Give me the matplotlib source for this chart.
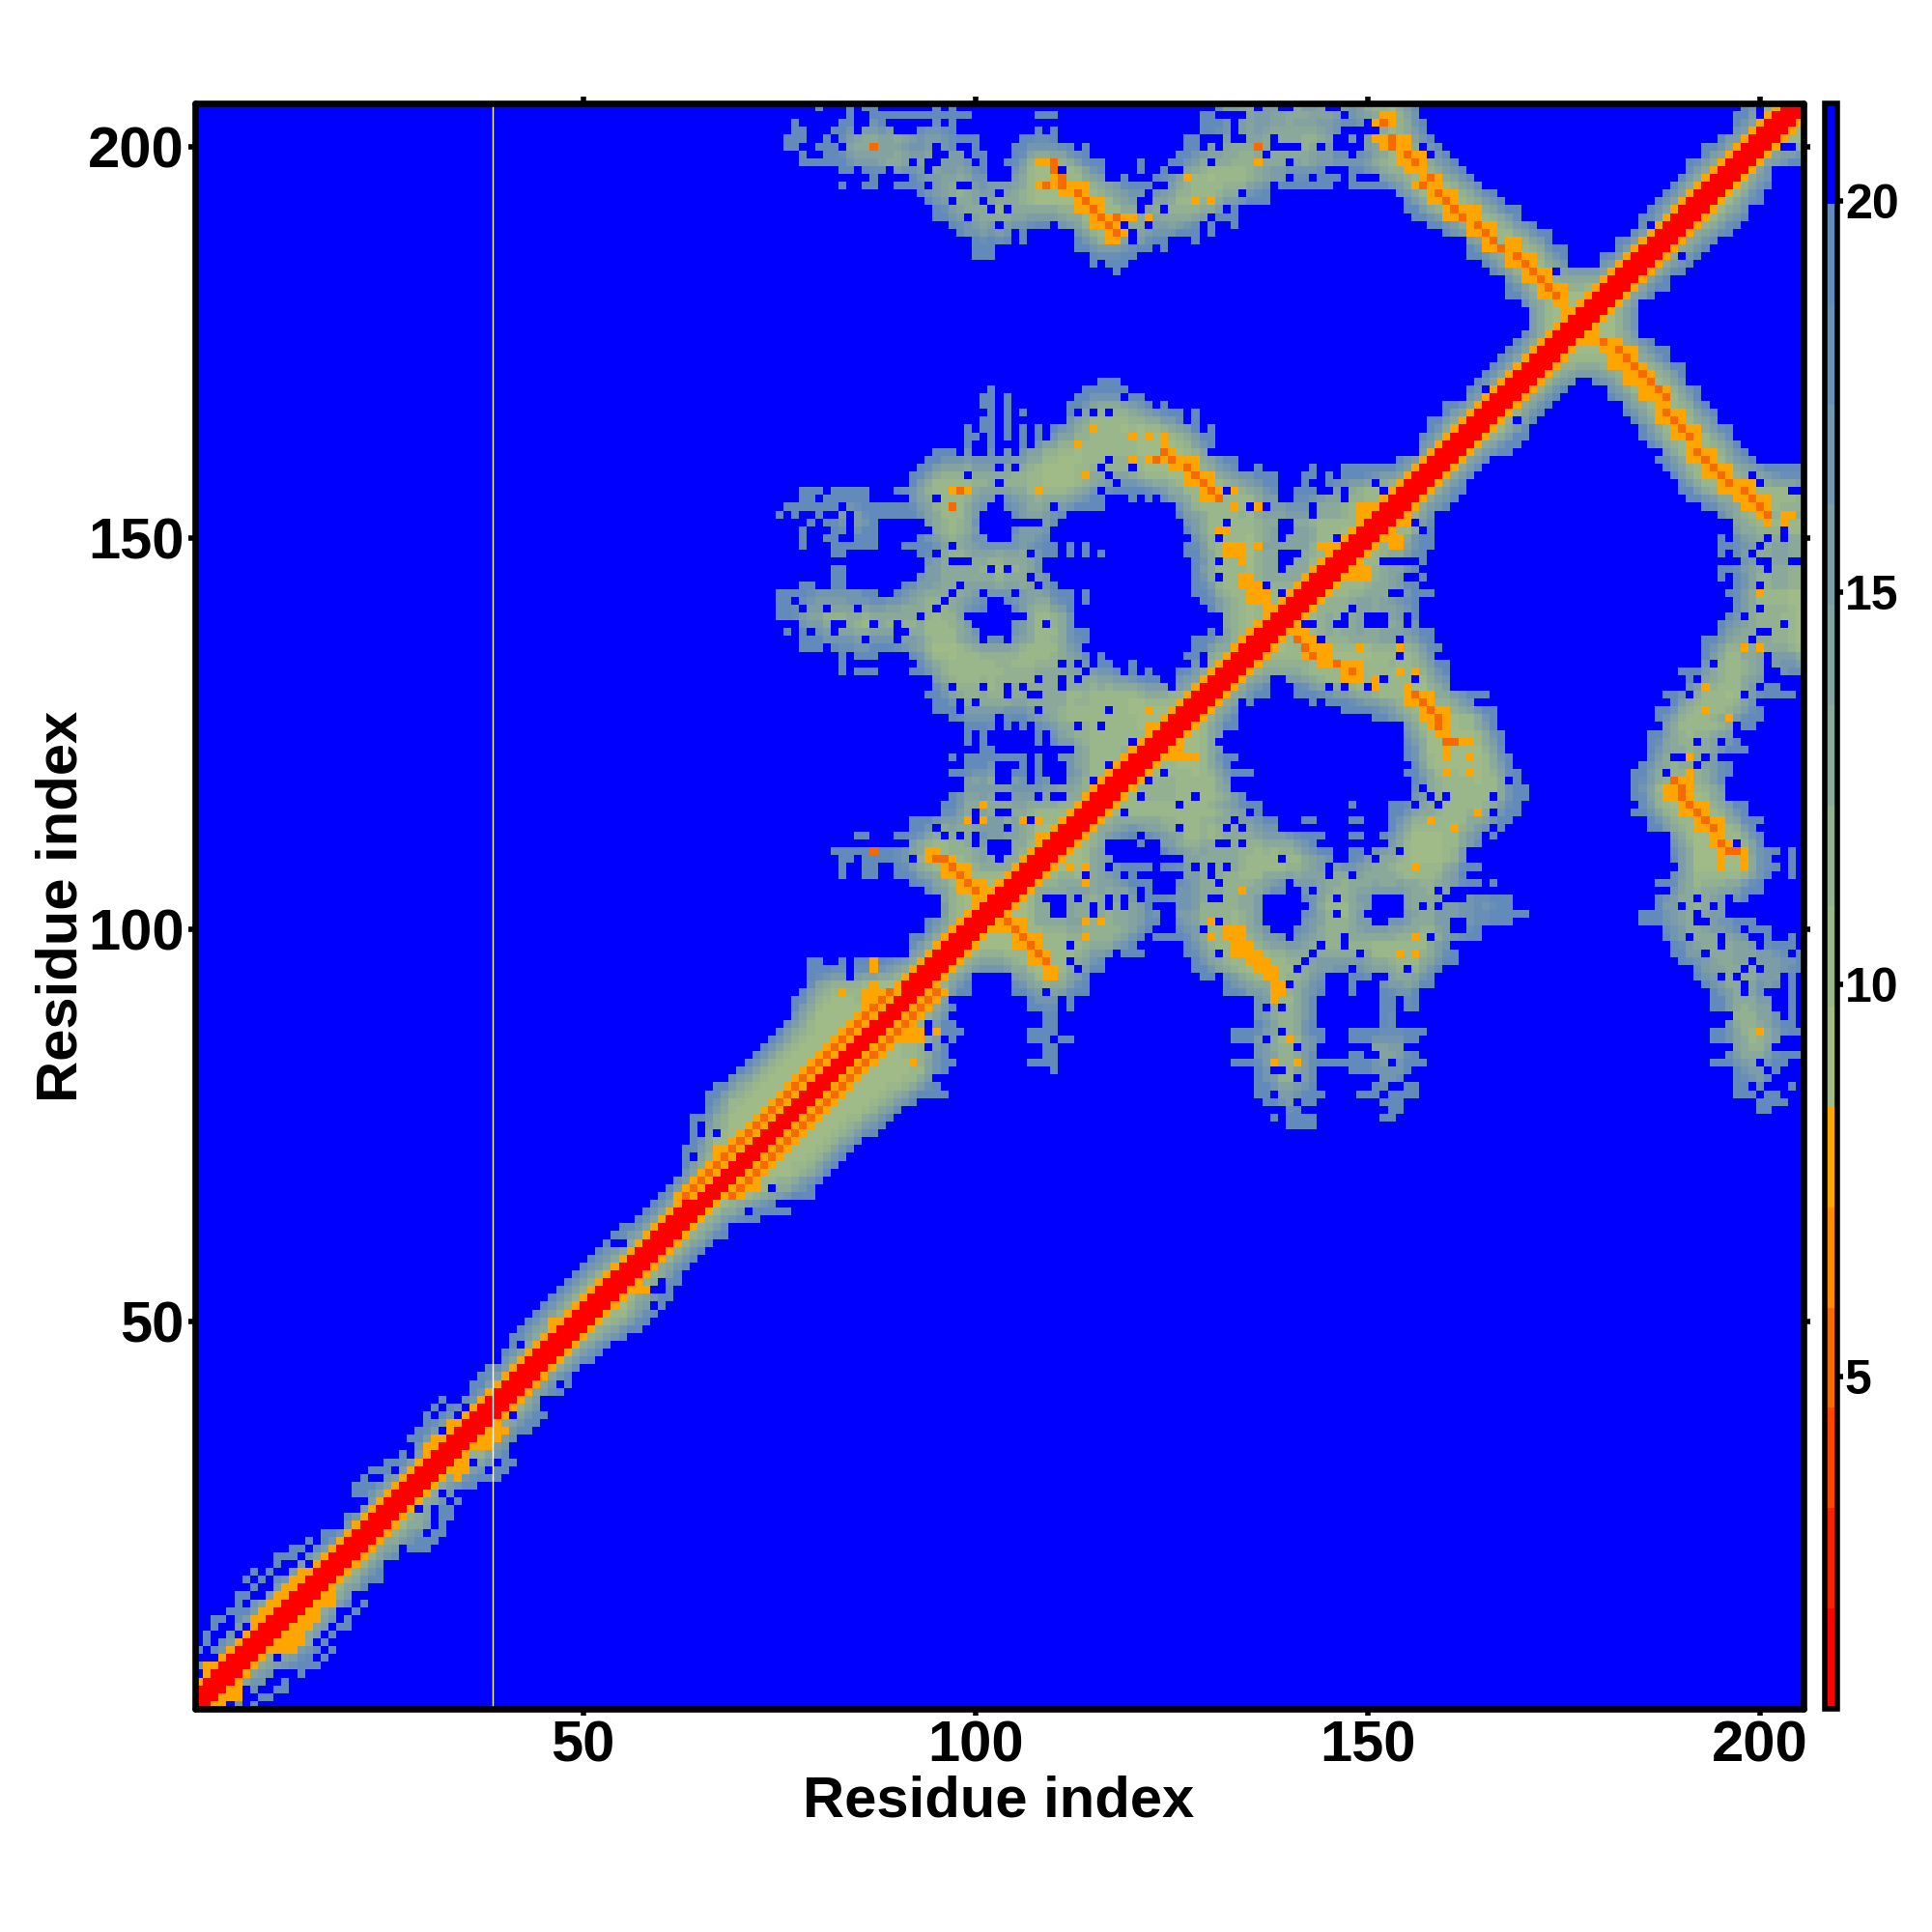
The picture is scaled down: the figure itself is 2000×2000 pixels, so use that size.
import numpy as np
import matplotlib
matplotlib.use("Agg")
import matplotlib.pyplot as plt
from matplotlib.colors import ListedColormap, BoundaryNorm
from matplotlib.colorbar import ColorbarBase

plt.rcParams['font.family'] = ['Liberation Sans', 'DejaVu Sans']
plt.rcParams['font.weight'] = 'bold'

N_RES = 205
GAP_COLUMN = 38.5
TICKS = [50, 100, 150, 200]
CBAR_TICKS = [5, 10, 15, 20]
BOUNDS = [0.76, 2.04, 3.32, 4.60, 5.88, 7.16, 8.44, 9.72, 11.0, 12.28, 13.56, 14.84, 16.12, 17.4, 18.68, 19.96, 21.24]
COLORS = ['#FF0000', '#F92000', '#FF4500', '#F66A00', '#FF8C00', '#FFA500',
          '#A1BB88', '#9AB78C', '#93B091', '#8BA99A', '#83A2A0', '#7C9CA8',
          '#7295B0', '#6A8FB6', '#628ABB', '#0000FF']

# non-blue cells per row: row -> (first, last) residue runs
ROW_RUNS = {
    205: [(80,80),(84,84),(86,87),(95,95),(97,97),(131,135),(137,138),(141,144),(147,156),(198,199),(201,205)],
    204: [(84,84),(87,99),(108,110),(129,130),(135,146),(147,156),(197,205)],
    203: [(77,77),(83,84),(87,88),(95,95),(97,97),(129,132),(134,150),(152,157),(197,205)],
    202: [(77,78),(82,84),(86,89),(93,97),(108,108),(110,110),(129,132),(134,137),(138,146),(152,157),(197,205)],
    201: [(76,78),(81,81),(83,100),(106,110),(127,128),(132,132),(135,137),(139,146),(148,148),(150,158),(195,205)],
    200: [(76,77),(80,82),(84,94),(96,97),(100,100),(105,112),(114,114),(127,128),(130,130),(132,137),(142,145),(150,159),(193,205)],
    199: [(78,78),(81,94),(96,98),(100,101),(105,114),(126,147),(149,160),(193,205)],
    198: [(78,91),(93,93),(96,99),(101,101),(104,116),(121,121),(125,129),(131,139),(141,161),(191,205)],
    197: [(83,84),(86,88),(90,93),(95,101),(105,110),(112,116),(121,121),(124,124),(127,144),(148,162),(191,201)],
    196: [(87,87),(92,101),(105,116),(119,119),(123,142),(144,146),(148,148),(152,163),(190,201)],
    195: [(83,83),(86,87),(90,93),(95,97),(100,122),(124,137),(139,145),(148,164),(189,201)],
    194: [(93,102),(104,121),(123,133),(135,137),(154,166),(188,200)],
    193: [(94,100),(102,120),(123,137),(155,167),(187,200)],
    192: [(95,101),(103,103),(105,131),(133,133),(155,169),(186,198)],
    191: [(95,98),(100,133),(156,169),(185,198)],
    190: [(97,102),(104,109),(111,118),(120,121),(123,128),(130,130),(133,133),(158,171),(185,197)],
    189: [(98,104),(106,106),(113,119),(121,128),(130,130),(160,161),(162,173),(184,196)],
    188: [(100,104),(106,106),(113,119),(121,124),(128,128),(163,173),(182,194)],
    187: [(100,102),(113,122),(124,124),(163,175),(182,193)],
    186: [(100,102),(115,120),(163,175),(180,192)],
    185: [(115,115),(117,119),(165,175),(180,191)],
    184: [(118,118),(166,190)],
    183: [(168,188)], 182: [(168,188)], 181: [(168,186)], 180: [(170,184)],
    179: [(171,184)], 178: [(171,184)], 177: [(171,184)], 176: [(170,184)],
    175: [(169,186)], 174: [(168,188)], 173: [(167,188)], 172: [(166,190)], 171: [(165,190)],
    170: [(116,118),(164,176),(179,190)],
    169: [(102,102),(114,119),(163,175),(181,192)],
    168: [(101,102),(104,104),(113,121),(163,174),(181,192)],
    167: [(101,102),(104,104),(112,122),(124,124),(160,173),(183,193)],
    166: [(102,102),(104,104),(106,106),(112,112),(114,126),(128,128),(160,172),(183,194)],
    165: [(101,102),(104,104),(112,126),(128,128),(158,171),(184,194)],
    164: [(99,99),(101,102),(104,104),(106,106),(108,108),(110,128),(130,130),(158,170),(185,196)],
    163: [(99,100),(102,102),(104,104),(106,106),(108,108),(110,130),(157,170),(185,196)],
    162: [(99,99),(102,102),(106,106),(108,130),(157,169),(186,197)],
    161: [(95,97),(99,99),(102,102),(104,104),(106,129),(157,168),(188,198)],
    160: [(94,133),(154,165),(187,199)],
    159: [(93,133),(136,136),(143,143),(147,164),(188,205)],
    158: [(92,138),(142,143),(145,145),(147,163),(189,205)],
    157: [(92,138),(142,142),(145,162),(190,205)],
    156: [(78,80),(82,86),(90,138),(141,143),(145,162),(190,204)],
    155: [(78,79),(81,86),(92,102),(104,116),(120,120),(122,122),(124,161),(191,205)],
    154: [(76,79),(80,82),(84,101),(104,116),(126,160),(193,205)],
    153: [(75,75),(77,77),(80,80),(83,83),(85,100),(105,111),(126,158),(195,205)],
    152: [(79,79),(81,83),(85,87),(94,100),(109,110),(127,158),(196,205)],
    151: [(78,78),(82,83),(85,87),(95,100),(105,109),(127,158),(196,205)],
    150: [(78,78),(81,82),(85,87),(93,101),(105,109),(128,158),(195,205)],
    149: [(78,78),(82,87),(91,96),(97,110),(112,112),(114,114),(127,158),(195,205)],
    148: [(82,83),(93,106),(108,110),(112,112),(114,114),(116,116),(127,157),(195,205)],
    147: [(94,97),(100,108),(128,157),(198,204)],
    146: [(82,83),(94,103),(105,108),(128,156),(195,205)],
    145: [(82,83),(93,106),(108,109),(128,157),(195,205)],
    144: [(78,79),(82,83),(91,97),(98,107),(109,110),(128,156),(196,205)],
    143: [(75,87),(90,96),(97,100),(102,104),(106,112),(114,114),(128,158),(196,205)],
    142: [(75,76),(78,95),(96,101),(104,112),(114,114),(129,156),(196,205)],
    141: [(75,77),(78,80),(81,84),(86,94),(96,101),(105,112),(130,156),(196,205)],
    140: [(75,92),(93,98),(107,112),(132,156),(196,205)],
    139: [(78,81),(84,86),(88,89),(91,99),(105,108),(110,112),(132,156),(195,205)],
    138: [(76,76),(78,78),(80,81),(83,89),(92,100),(105,114),(130,130),(132,158),(195,205)],
    137: [(78,85),(87,89),(91,100),(102,103),(105,114),(128,158),(193,205)],
    136: [(78,80),(82,91),(92,113),(128,159),(193,205)],
    135: [(83,83),(85,87),(92,114),(116,116),(127,128),(130,158),(193,200),(201,205)],
    134: [(83,83),(93,114),(116,117),(120,120),(128,128),(130,160),(193,205)],
    133: [(83,83),(85,87),(92,118),(120,120),(122,122),(126,160),(190,200),(203,205)],
    132: [(95,123),(126,160),(191,200)],
    131: [(95,124),(126,137),(141,160),(191,199),(200,203)],
    130: [(94,137),(141,165),(188,204)],
    129: [(95,135),(143,163),(189,200)],
    128: [(95,133),(147,166),(187,200)],
    127: [(97,102),(104,133),(151,166),(187,200)],
    126: [(99,102),(104,104),(106,106),(108,133),(155,166),(188,199)],
    125: [(99,99),(101,101),(108,108),(110,131),(155,167),(186,197)],
    124: [(99,99),(101,101),(108,108),(110,130),(155,167),(186,197)],
    123: [(101,102),(113,131),(155,167),(186,198)],
    122: [(97,97),(99,106),(108,108),(111,118),(120,133),(155,168),(186,196)],
    121: [(99,103),(105,106),(108,108),(112,132),(156,168),(185,196)],
    120: [(97,102),(105,106),(108,108),(112,135),(155,169),(184,196)],
    119: [(99,102),(105,106),(108,109),(112,132),(156,169),(184,195)],
    118: [(99,132),(156,170),(184,195)],
    117: [(97,102),(105,107),(109,109),(112,134),(156,170),(184,195)],
    116: [(96,136),(148,148),(153,169),(185,198)],
    115: [(96,136),(153,169),(184,198)],
    114: [(92,138),(142,143),(148,149),(153,168),(186,200)],
    113: [(92,138),(153,167),(186,199)],
    112: [(85,86),(90,144),(148,149),(152,164),(166,166),(189,200)],
    111: [(92,116),(121,121),(124,143),(153,164),(189,200)],
    110: [(82,116),(124,145),(148,149),(151,162),(189,202),(204,204)],
    109: [(83,84),(86,117),(127,145),(148,150),(152,162),(189,201),(204,204)],
    108: [(83,83),(86,87),(90,116),(118,122),(124,127),(129,129),(131,131),(133,164),(190,202),(204,204)],
    107: [(83,83),(86,87),(90,118),(120,120),(127,162),(189,201),(204,204)],
    106: [(92,122),(126,139),(141,164),(166,166),(187,200)],
    105: [(94,122),(126,140),(142,160),(189,200)],
    104: [(96,108),(112,112),(114,150),(155,159),(163,168),(187,195),(197,198)],
    103: [(96,122),(126,150),(155,168),(187,195)],
    102: [(96,123),(126,136),(142,149),(155,170),(185,195)],
    101: [(94,123),(126,136),(142,150),(153,160),(162,168),(185,191),(193,199)],
    100: [(94,122),(126,129),(130,164),(188,201)],
    99: [(92,121),(123,164),(188,201),(204,204)],
    98: [(92,120),(127,160),(189,204)],
    97: [(92,117),(119,121),(127,161),(189,205)],
    96: [(79,80),(83,83),(85,116),(128,161),(190,205)],
    95: [(79,116),(128,159),(192,205)],
    94: [(79,99),(105,114),(129,130),(132,144),(148,150),(153,158),(192,202),(204,204)],
    93: [(79,99),(105,114),(132,144),(148,148),(152,158),(193,202),(204,204)],
    92: [(78,99),(105,114),(132,144),(148,148),(152,156),(194,200),(204,204)],
    91: [(77,96),(107,110),(112,112),(136,143),(152,153),(155,156),(194,201),(204,204)],
    90: [(77,97),(107,110),(112,112),(136,143),(152,153),(155,156),(194,195),(196,201),(204,204)],
    89: [(77,96),(109,110),(136,143),(152,153),(197,202),(204,204)],
    88: [(76,97),(109,110),(136,143),(152,153),(196,204)],
    87: [(75,98),(107,110),(133,133),(134,144),(148,157),(194,205)],
    86: [(74,97),(107,109),(111,112),(133,133),(134,144),(148,156),(194,195),(196,202)],
    85: [(73,96),(109,110),(136,143),(151,152),(153,154),(197,201)],
    84: [(72,93),(94,96),(109,110),(136,143),(148,149),(152,153),(154,156),(196,205)],
    83: [(71,97),(107,110),(133,146),(147,149),(150,152),(154,157),(194,195),(196,203)],
    82: [(70,96),(110,110),(136,143),(148,150),(151,152),(153,155),(197,202)],
    81: [(69,94),(136,143),(152,154),(197,201)],
    80: [(67,95),(136,143),(151,152),(155,156),(197,198),(200,200),(204,204)],
    79: [(66,96),(136,144),(149,151),(153,156),(197,199),(201,202)],
    78: [(66,92),(137,138),(139,143),(152,154),(200,203)],
    77: [(66,90),(140,142),(153,154),(200,201)],
    76: [(64,89),(138,138),(140,143),(152,153)],
    75: [(64,88),(140,143)],
    74: [(64,87)], 73: [(64,85)], 72: [(63,84)], 71: [(63,83)], 70: [(63,82)],
    69: [(63,81)], 68: [(62,80)], 67: [(61,79)], 66: [(60,79)], 65: [(59,76)],
    64: [(58,76)], 63: [(57,72)], 62: [(55,68)], 61: [(54,68)], 60: [(53,66)],
    59: [(52,65)], 58: [(51,64)], 57: [(50,63)], 56: [(49,62)], 55: [(48,62)],
    54: [(47,61)], 53: [(46,61)], 52: [(45,60)], 51: [(44,59)], 50: [(43,58)],
    49: [(42,57)], 48: [(41,55)], 47: [(41,41),(43,53)], 46: [(40,52)], 45: [(40,51)],
    44: [(38,49)], 43: [(37,48)], 42: [(36,48)], 41: [(36,47)],
    40: [(32,32),(35,44)], 39: [(31,31),(33,44)], 38: [(30,30),(32,45)], 37: [(30,30),(31,44)],
    36: [(29,43)], 35: [(28,41)], 34: [(29,40)], 33: [(27,27),(29,40)], 32: [(25,27),(28,41)],
    31: [(23,25),(27,40)], 30: [(22,22),(25,39)], 29: [(21,26),(28,36)], 28: [(21,31),(33,33)],
    27: [(23,32),(34,34)], 26: [(22,28),(30,30),(32,33)], 25: [(20,30),(32,33)], 24: [(20,30),(32,32)],
    23: [(17,29),(31,32)], 22: [(15,15),(17,27),(28,31)], 21: [(13,14),(16,26),(28,30)],
    20: [(11,13),(15,26)], 19: [(11,11),(14,14),(16,24)], 18: [(8,8),(10,10),(13,24)],
    17: [(7,7),(9,9),(11,24)], 16: [(8,8),(11,22)], 15: [(6,7),(10,20)], 14: [(6,6),(8,20),(22,22)],
    13: [(5,18),(21,21)], 12: [(3,4),(6,18),(20,20)], 11: [(3,3),(6,6),(8,17),(19,20)],
    10: [(2,2),(5,5),(7,16),(18,18)], 9: [(2,2),(4,15),(17,17)], 8: [(1,1),(3,15),(16,16),(18,18)],
    7: [(4,10),(12,14),(15,15),(17,17)], 6: [(1,16)], 5: [(2,10),(14,14)], 4: [(1,9),(12,12)],
    3: [(1,6),(8,8),(11,12)], 2: [(1,6),(9,10)], 1: [(1,4),(6,6),(8,8)],
}

# single blue cells and small gaps inside those runs: (residue, row)
HOLES = [
    (119,168),(113,166),(115,166),(117,166),(117,160),(120,159),(116,159),(99,158),(103,159),(105,159),
    (103,157),(117,158),(118,157),(116,156),(132,156),(95,155),(110,154),(135,154),(132,152),(131,150),
    (97,149),(95,148),(107,148),(131,147),(98,147),(97,147),(102,146),(104,146),(131,145),(98,144),(108,144),
    (97,143),(105,143),(96,142),(95,141),(93,140),(77,142),(78,141),(81,141),(85,141),(87,139),(90,139),
    (91,138),(79,138),(82,138),(86,137),(90,137),(109,139),(115,135),(111,134),(113,134),(114,133),(108,132),
    (111,132),(113,132),(111,131),(97,131),(101,131),(104,131),(106,131),(104,130),(107,130),(108,130),
    (98,129),(100,129),(98,128),(108,128),(117,128),(113,126),(116,126),(120,124),(117,121),(122,120),
    (124,120),(115,119),(122,119),(103,119),(104,119),(107,119),(104,121),(105,121),(103,121),(117,121),
    (108,117),(103,117),(104,117),(121,117),(128,117),(126,116),(100,115),(100,114),(103,115),(104,115),
    (119,115),(135,115),(107,114),(133,114),(95,113),(104,113),(126,113),(132,113),(134,113),(96,112),
    (98,112),(100,112),(100,111),(121,112),(131,111),(134,111),(102,111),(103,111),(104,111),(102,110),
    (103,110),(104,110),(92,109),(103,109),(139,109),(117,108),(128,108),(130,108),(130,107),(132,108),
    (114,107),(119,107),(131,106),(140,106),(140,105),(143,105),(121,105),(121,104),(110,104),(111,104),
    (110,103),(111,103),(110,102),(111,102),(113,104),(115,103),(115,102),(117,104),(117,103),(119,104),
    (119,103),(130,104),(131,104),(146,104),(146,102),(137,104),(138,104),(139,104),(140,104),(141,104),
    (137,103),(138,103),(139,103),(140,103),(141,103),(142,103),(138,100),(139,100),(140,100),(130,101),
    (131,101),(129,100),(140,99),(122,99),(112,98),(144,98),(143,97),(142,96),(141,95),(140,93),(113,95),
    (112,96),(109,92),(138,91),(137,90),(139,90),(151,157),(152,156),(145,156),(147,156),(147,155),(139,155),
    (140,155),(135,154),(137,154),(143,154),(143,153),(156,152),(157,151),(146,150),(139,152),(140,152),
    (139,151),(140,151),(139,150),(139,148),(140,148),(141,148),(139,147),(140,147),(139,146),(150,146),
    (155,145),(156,145),(137,144),(153,143),(154,143),(139,143),(139,142),(148,141),(147,140),(146,139),
    (147,139),(150,140),(151,140),(152,140),(150,139),(151,139),(152,139),(142,139),(143,139),(155,140),
    (155,139),(144,137),(154,137),(154,135),(129,134),(152,132),(156,132),(138,132),(139,132),(145,131),
    (147,131),(150,131),(134,129),(144,129),(199,158),(200,157),(204,156),(196,152),(196,151),(196,150),
    (203,151),(203,150),(201,150),(200,149),(196,148),(199,148),(200,147),(201,147),(201,146),(204,147),
    (196,145),(196,144),(200,144),(196,142),(196,141),(200,141),(198,140),(203,139),(200,138),(201,138),
    (199,137),(201,135),(201,134),(194,134),(192,132),(200,131),(201,132),(203,132),(203,131),(191,130),
    (198,130),(200,129),(201,129),(197,126),(197,125),(192,124),(195,124),(189,122),(190,122),(193,122),
    (195,122),(196,122),(192,121),(188,120),(190,119),(197,111),(192,104),(190,103),(194,103),(192,102),
    (193,101),(198,100),(191,99),(195,99),(195,98),(199,99),(200,99),(200,98),(193,97),(199,96),(204,97),
    (198,95),(200,95),(195,94),(197,94),(198,93),(198,92),(200,83),(201,82),(199,80),(133,114),(131,111),
    (132,111),(139,109),(145,108),(145,107),(148,107),(146,104),(146,102),(140,99),(147,99),(147,98),(158,99),
    (144,98),(143,97),(149,97),(148,95),(155,95),(131,97),(140,93),(139,87),(137,86),(141,85),(138,82),(139,82),
    (141,81),(138,79),(141,78),(142,77),(159,105),(157,103),(159,103),(161,101),(162,101),(161,100),(162,100),
    (158,117),(160,117),(159,116),(156,116),(157,118),(166,117),(166,115),(166,113),(154,110),(168,119),
    (82,201),(83,200),(95,200),(80,199),(96,199),(92,198),(95,198),(100,198),(94,197),(94,195),(98,195),
    (99,195),(103,194),(97,193),(101,193),(102,192),(104,192),(99,191),(103,190),(111,197),(119,190),(122,193),
    (121,192),(124,192),(124,195),(130,198),(134,194),(132,192),(130,191),(137,199),(140,198),(140,196),
    (120,188),(147,204),(150,203),(151,203),(146,201),(146,200),(147,201),(144,200),(141,200),(157,200),
    (148,199),(158,199),(200,204),(200,203),(203,200),(204,200),(143,196),(174,184),(186,190),(190,186),
    (165,169),(169,165),(184,174),(155,147),(152,147),(153,147),(154,147),(156,147),
    (84,95),(84,94),(88,92),(92,88),(94,88),(94,87),(96,86),(94,85),(65,75),(65,74),(67,74),(64,71),(74,67),
    (75,65),(76,65),(71,64),(60,55),(60,54),(59,54),(59,52),(54,60),(55,60),
    (47,42),(41,38),(29,26),(38,41),(26,29),(36,32),(39,35),(38,34),(39,32),(38,31),(32,36),(34,38),(35,39),
]

# strong contacts off the main diagonal: (row, first, last)
ORANGE_RUNS = [
    (204,152,153),(203,151,153),(201,151,155),(200,152,155),(199,154,157),(198,154,157),(197,155,157),
    (196,157,159),(195,156,159),(194,158,161),(193,158,161),(192,160,164),(191,160,164),(190,163,166),
    (189,163,166),(188,165,166),(188,168,169),(187,165,169),(186,168,171),(185,168,171),(184,170,173),
    (183,170,173),(182,172,175),(181,172,175),(180,174,175),(179,175,177),(178,176,176),(176,178,179),
    (175,177,182),(174,180,184),(173,181,184),(172,181,185),(171,183,186),(170,183,186),(169,185,188),
    (168,185,188),(167,187,188),(166,187,190),(165,187,190),(164,189,192),(163,189,192),(162,191,192),
    (161,191,194),(160,191,194),(159,193,196),(158,193,196),(157,195,199),(156,195,199),(155,197,201),
    (154,198,201),(153,200,201),(153,203,204),(152,201,201),(152,203,203),
    (200,87,87),(200,136,136),(198,136,136),(198,108,109),(198,110,110),(197,110,110),(196,110,111),
    (195,108,114),(194,111,114),(193,113,116),(192,113,116),(191,115,120),(191,122,122),(190,115,118),
    (189,117,119),(188,117,118),(196,127,127),(193,128,128),(193,130,130),
    (164,115,115),(163,120,120),(163,122,122),(163,124,124),(162,113,113),(162,124,124),(161,124,125),
    (160,120,120),(160,122,128),(159,125,128),(158,114,114),(158,127,130),(157,127,130),(156,97,97),
    (156,99,99),(156,108,108),(156,129,131),(156,133,133),(155,129,131),(154,97,97),(154,133,133),
    (154,136,136),(151,131,132),(149,132,134),(149,136,136),(148,132,134),(147,134,134),(145,134,135),
    (144,134,136),(143,135,137),(142,135,137),(141,137,138),(140,137,138),(139,137,137),
    (138,140,142),(137,141,143),(136,142,145),(136,149,149),(136,154,154),(135,142,145),(134,144,145),
    (134,146,149),(133,147,149),(133,154,154),(133,156,156),(132,147,149),(132,151,151),(131,151,151),
    (131,155,155),(130,155,158),(129,155,158),(128,157,160),(127,157,160),(126,158,160),(125,159,160),
    (124,160,163),(123,160,160),(122,160,160),(122,163,163),(120,160,160),(120,163,163),(115,164,164),
    (114,158,158),(113,161,161),(108,156,156),(105,134,134),(101,130,130),(100,132,134),(99,130,130),
    (99,132,134),(99,156,156),(98,133,135),(97,133,136),(97,154,154),(97,156,156),(96,135,137),
    (95,136,138),(94,137,138),(93,138,139),(92,138,139),(91,138,138),(86,140,140),(83,138,138),(83,141,141),
    (122,191,191),(120,191,191),(119,189,191),(118,188,191),(117,188,191),(116,190,193),(115,190,193),
    (114,192,195),(113,192,195),(112,194,195),(111,194,196),(110,195,198),(109,195,195),(109,198,198),
    (108,195,195),(108,198,198),(131,193,193),(128,193,193),(127,196,196),(136,198,198),(136,200,200),
    (143,200,200),(159,193,196),(87,200,200),
    (110,87,87),(110,94,95),(109,94,97),(108,96,99),(107,96,99),(106,98,101),(105,98,101),(104,100,102),
    (103,100,101),(102,100,100),(101,103,106),(100,103,106),(99,105,108),(98,105,108),(97,107,109),
    (96,107,109),(95,109,110),(94,109,110),(122,123,128),(116,101,101),(114,99,99),(114,101,101),
    (114,106,106),(114,108,108),(112,108,109),(108,112,112),(108,114,114),(106,114,114),(101,114,114),
    (101,116,116),(99,114,114),(96,87,87),(92,83,83),(92,86,87),(91,86,87),(90,86,88),(89,85,86),
    (87,95,95),(83,92,92),(100,132,134),(95,87,87),(95,92,93),(93,87,87),(93,90,91),(92,89,90),(92,95,95),
    (91,92,93),(90,92,93),(87,89,93),(86,91,93),
    (72,67,68),(71,68,68),(70,68,68),(68,70,71),(67,72,72),(58,55,55),(57,55,55),(54,57,58),(50,46,47),
    (154,149,152),(153,149,151),(152,150,150),(152,153,155),(150,152,154),(149,153,154),(149,144,147),
    (148,145,145),(146,148,150),(145,148,150),(128,122,122),(126,122,123),(125,122,123),(124,122,122),
    (123,125,126),(122,124,126),(122,128,128),
    (40,38,38),(39,36,37),(38,35,35),(37,33,35),(36,39,40),(35,31,32),(35,37,39),(34,30,32),(34,36,38),
    (32,34,35),(31,34,35),(30,34,34),(26,28,28),(18,14,16),(17,13,15),(16,12,14),(15,11,13),(15,17,18),
    (14,10,12),(14,16,18),(13,9,9),(13,15,16),(12,8,9),(12,14,16),(11,8,9),(11,13,15),(10,12,14),(9,11,14),
    (8,10,13),(6,2,4),(5,3,4),(4,1,2),(3,1,1),(3,5,6),(2,4,6),(1,3,4),
]

# the darker orange cells along those contacts: (residue, row)
DARK_CELLS = [
    (152,203),(153,201),(153,200),(155,199),(156,198),(158,196),(157,195),(159,194),(160,193),(161,192),
    (162,191),(164,190),(165,189),(166,188),(167,187),(169,186),(170,185),(171,184),(172,183),(173,182),
    (174,181),(176,179),(180,175),(182,174),(183,173),(184,172),(185,171),(186,170),(187,169),(188,168),
    (188,166),(189,165),(190,164),(191,163),(192,161),(193,160),(194,159),(195,158),(196,157),(198,156),
    (199,155),(200,154),(201,153),(110,198),(110,197),(111,196),(109,195),(111,195),(113,194),(114,193),
    (115,192),(116,191),(118,191),(117,190),(118,189),(124,161),(123,160),(125,160),(127,159),(128,158),
    (129,157),(130,156),(131,155),(95,109),(96,109),(97,108),(98,107),(99,106),(100,105),(101,104),(104,101),
    (105,100),(106,99),(107,98),(108,97),(109,96),(141,137),(142,136),(143,135),(146,134),(148,133),(156,130),
    (157,129),(158,128),(159,127),(159,126),(160,124),(161,124),(189,119),(190,118),(190,117),(191,116),
    (192,115),(193,114),(194,113),(195,111),(196,110),(197,110),(87,110),(87,200),(136,200),(98,156),(97,154),
]

# values across the main diagonal, keyed by residue minus row
DIAG_PLAIN = {-3: 7.8, -2: 1.4, -1: 1.4, 0: 1.4, 1: 1.4, 2: 7.8}
DIAG_HELIX = {-4: 7.8, -3: 5.2, -2: 7.8, -1: 1.4, 0: 1.4, 1: 1.4, 2: 7.8, 3: 5.2, 4: 7.8}
HELIX_FIRST, HELIX_LAST = 66, 92
ORANGE_VALUE = 7.8
DARK_VALUE = 5.2
BLUE_VALUE = 21.0

mask = np.zeros((N_RES, N_RES), dtype=bool)
for row, runs in ROW_RUNS.items():
    for first, last in runs:
        mask[row - 1, first - 1:last] = True
for res, row in HOLES:
    mask[row - 1, res - 1] = False

# cells close to empty space shade towards steel blue, as in the colour key
pad = np.pad(mask.astype(float), 3, mode='edge')
win = np.ones((N_RES, N_RES))
for i in range(N_RES):
    for j in range(N_RES):
        win[i, j] = pad[i:i + 7, j:j + 7].mean()
dist = np.clip(9.0 + (1 - win) * 24.0, 9.0, 19.5)
dist[~mask] = BLUE_VALUE

for row, first, last in ORANGE_RUNS:
    dist[row - 1, first - 1:last] = ORANGE_VALUE
for res, row in DARK_CELLS:
    dist[row - 1, res - 1] = DARK_VALUE

for i in range(1, N_RES + 1):
    profile = DIAG_HELIX if HELIX_FIRST <= i <= HELIX_LAST else DIAG_PLAIN
    for off, val in profile.items():
        if 1 <= i + off <= N_RES:
            dist[i - 1, i + off - 1] = val

cmap = ListedColormap(COLORS)
norm = BoundaryNorm(BOUNDS, cmap.N)

fig = plt.figure(figsize=(10, 10), dpi=200)
ax = fig.add_axes([201.5 / 2000, 1 - 1769 / 2000, 1665 / 2000, 1662 / 2000])
ax.imshow(dist, origin='lower', extent=(0.5, N_RES + 0.5, 0.5, N_RES + 0.5), cmap=cmap, norm=norm,
          interpolation='nearest', aspect='auto')
ax.axvline(GAP_COLUMN, color='white', lw=0.5)

ax.set_xticks(TICKS)
ax.set_yticks(TICKS)
ax.tick_params(axis='both', which='major', length=2.5, width=2, labelsize=21.5, top=True, right=True, pad=1.5)
ax.set_xlabel('Residue index', fontsize=21.5, fontweight='bold')
ax.set_ylabel('Residue index', fontsize=21.5, fontweight='bold')
ax.xaxis.set_label_coords(0.5, -0.041)
ax.yaxis.set_label_coords(-0.0658, 0.5)
for spine in ax.spines.values():
    spine.set_linewidth(2.4)
    spine.set_capstyle('round')

cax = fig.add_axes([1888.5 / 2000, 1 - 1769 / 2000, 13 / 2000, 1662 / 2000])
cb = ColorbarBase(cax, cmap=cmap, norm=norm, ticks=CBAR_TICKS, spacing='proportional', drawedges=False)
cb.outline.set_linewidth(2)
cb.minorticks_off()
cax.tick_params(length=2, width=2, labelsize=18, pad=1)

fig.savefig('out.png', dpi=200)
